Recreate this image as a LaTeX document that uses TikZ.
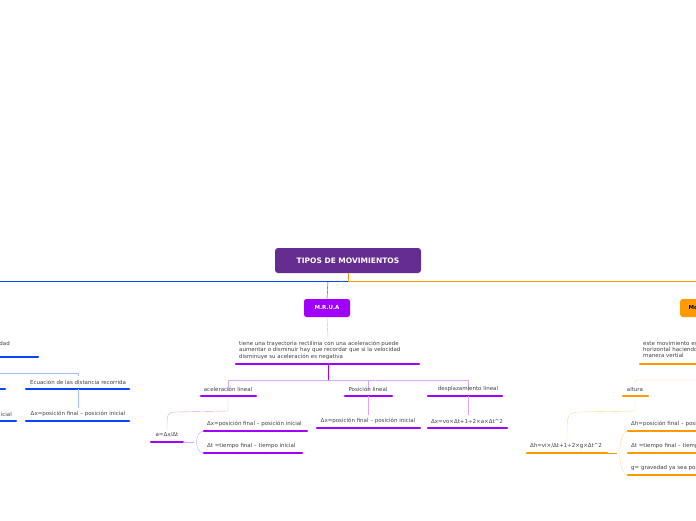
\documentclass[tikz,border=0pt]{standalone}
\usepackage{fontspec}
\setmainfont{DejaVu Sans}
\usepackage{xcolor}
\definecolor{rootpurple}{HTML}{662D91}
\definecolor{mpurple}{HTML}{A100FF}
\definecolor{lpurple}{HTML}{D9A6FF}
\definecolor{morange}{HTML}{FF9900}
\definecolor{lorange}{HTML}{FFD699}
\definecolor{mblue}{HTML}{0047FF}
\definecolor{lblue}{HTML}{A6BFFF}
\tikzset{
  txt/.style={font=\fontsize{5.5}{6.2}\selectfont, text=black!75, inner sep=0pt},
  ulp/.style={mpurple, line width=2.2pt, line cap=round},
  ulo/.style={morange, line width=2.2pt, line cap=round},
  ulb/.style={mblue, line width=2.2pt, line cap=round},
}
\begin{document}
\begin{tikzpicture}[x=1pt,y=-1pt]
  \useasboundingbox (0,0) rectangle (696,520);
  \clip (0,0) rectangle (696,520);

  % main line
  \draw[mblue, thin] (0,281) -- (348,281);
  \draw[morange, thin] (348,281) -- (696,281);
  \node[fill=rootpurple, rounded corners=3pt, minimum width=146pt, minimum height=25pt,
        text=white, font=\bfseries\fontsize{7.5}{8}\selectfont] (root) at (348,260.5) {TIPOS DE MOVIMIENTOS};
  \draw[morange] (root.south) -- (348,281);

  % M.R.U.A
  \node[fill=mpurple, rounded corners=2.5pt, minimum width=46pt, minimum height=18pt,
        text=white, font=\bfseries\fontsize{5.5}{6}\selectfont] (mrua) at (327,308) {M.R.U.A};
  \draw[mpurple] (328,281) -- (mrua.north);
  \node[txt, anchor=north west, align=left] (mdesc) at (239,341) {tiene una trayectoria rectilinia con una aceleración puede\\aumentar o disminuir hay que recordar que si la velocidad\\disminuye su aceleración es negativa};
  \draw[ulp] (236,364) -- (419,364);
  \draw[lpurple] (mrua.south) -- (328,337);
  \draw[mpurple] (328,364) -- (328,380);
  \draw[lpurple] (228,391) -- (228,380) -- (468,380) -- (468,391);
  \draw[lpurple] (368,380) -- (368,391);

  \node[txt] (acel) at (228,389) {aceleración lineal};
  \draw[ulp] (201,396) -- (256,396);
  \node[txt] (posl) at (368,389) {Posición lineal};
  \draw[ulp] (345,396) -- (392,396);
  \node[txt] (despl) at (468,389) {desplazamiento lineal};
  \draw[ulp] (428,396) -- (502,396);

  \draw[lpurple] (228,396) -- (228,411) -- (176,412) .. controls (167,413) .. (167,430);
  \node[txt] (aeq) at (167,435) {a=Δx/Δt};
  \draw[ulp] (151,442) -- (183,442);
  \draw[lpurple] (183,442) -- (194,442);
  \draw[lpurple] (204,431) .. controls (194,431) and (194,453) .. (204,453);
  \node[txt, anchor=west] (dx1) at (207,424) {Δx=posición final – posición inicial};
  \draw[ulp] (204,431) -- (307,431);
  \node[txt, anchor=west] (dt1) at (207,446) {Δt =tiempo final – tiempo inicial};
  \draw[ulp] (204,453) -- (302,453);

  \draw[lpurple] (368,396) -- (368,415);
  \node[txt] (dx2) at (368,421) {Δx=posición final – posición inicial};
  \draw[ulp] (317,428) -- (420,428);
  \draw[lpurple] (468,396) -- (468,415);
  \node[txt] (dx3) at (467,421) {Δx=vo×Δt+1÷2×a×Δt\^{}2};
  \draw[ulp] (428,428) -- (507,428);

  % orange branch
  \node[fill=morange, rounded corners=2.5pt, minimum width=60pt, minimum height=18pt,
        anchor=west, font=\bfseries\fontsize{5.5}{6}\selectfont] (mov) at (680,308) {\hspace*{-34pt}Mo};
  \node[txt, anchor=north west, align=left] (odesc) at (643,341) {este movimiento es\\horizontal haciendo\\manera vertial};
  \draw[ulo] (640,364) -- (700,364);
  \draw[lorange] (700,380) -- (640,380) .. controls (635,380) .. (635,385);
  \node[txt] (alt) at (635,389) {altura};
  \draw[ulo] (623,396) -- (648,396);
  \draw[lorange] (635,396) -- (635,411) -- (580,412) .. controls (567,413) .. (567,440);
  \node[txt] (heq) at (566,446) {Δh=vi×/Δt+1÷2×g×Δt\^{}2};
  \draw[ulo] (527,453) -- (607,453);
  \draw[morange] (607,453) -- (617,453);
  \draw[lorange] (628,431) .. controls (617,431) and (617,475) .. (628,475);
  \node[txt, anchor=west] (dh) at (631,424) {Δh=posición final – posición inicial};
  \draw[ulo] (628,431) -- (700,431);
  \node[txt, anchor=west] (dt2) at (631,446) {Δt =tiempo final – tiempo inicial};
  \draw[ulo] (628,453) -- (700,453);
  \node[txt, anchor=west] (grav) at (631,468) {g= gravedad ya sea positiva};
  \draw[ulo] (628,475) -- (700,475);

  % blue branch (cut off)
  \node[txt, anchor=east] (vel) at (10,343) {dad};
  \draw[ulb] (-5,357) -- (38,357);
  \draw[lblue] (-5,373) -- (78,373) -- (78,376);
  \node[txt] (ecu) at (78,382) {Ecuación de las distancia recorrida};
  \draw[ulb] (26,389) -- (129,389);
  \draw[ulb] (-5,389) -- (5,389);
  \draw[lblue] (78,389) -- (78,408);
  \node[txt] (dx4) at (78,414) {Δx=posición final – posición inicial};
  \draw[ulb] (26,421) -- (129,421);
  \node[txt, anchor=east] (ini) at (12,414) {icial};
  \draw[ulb] (-5,421) -- (16,421);
\end{tikzpicture}
\end{document}
